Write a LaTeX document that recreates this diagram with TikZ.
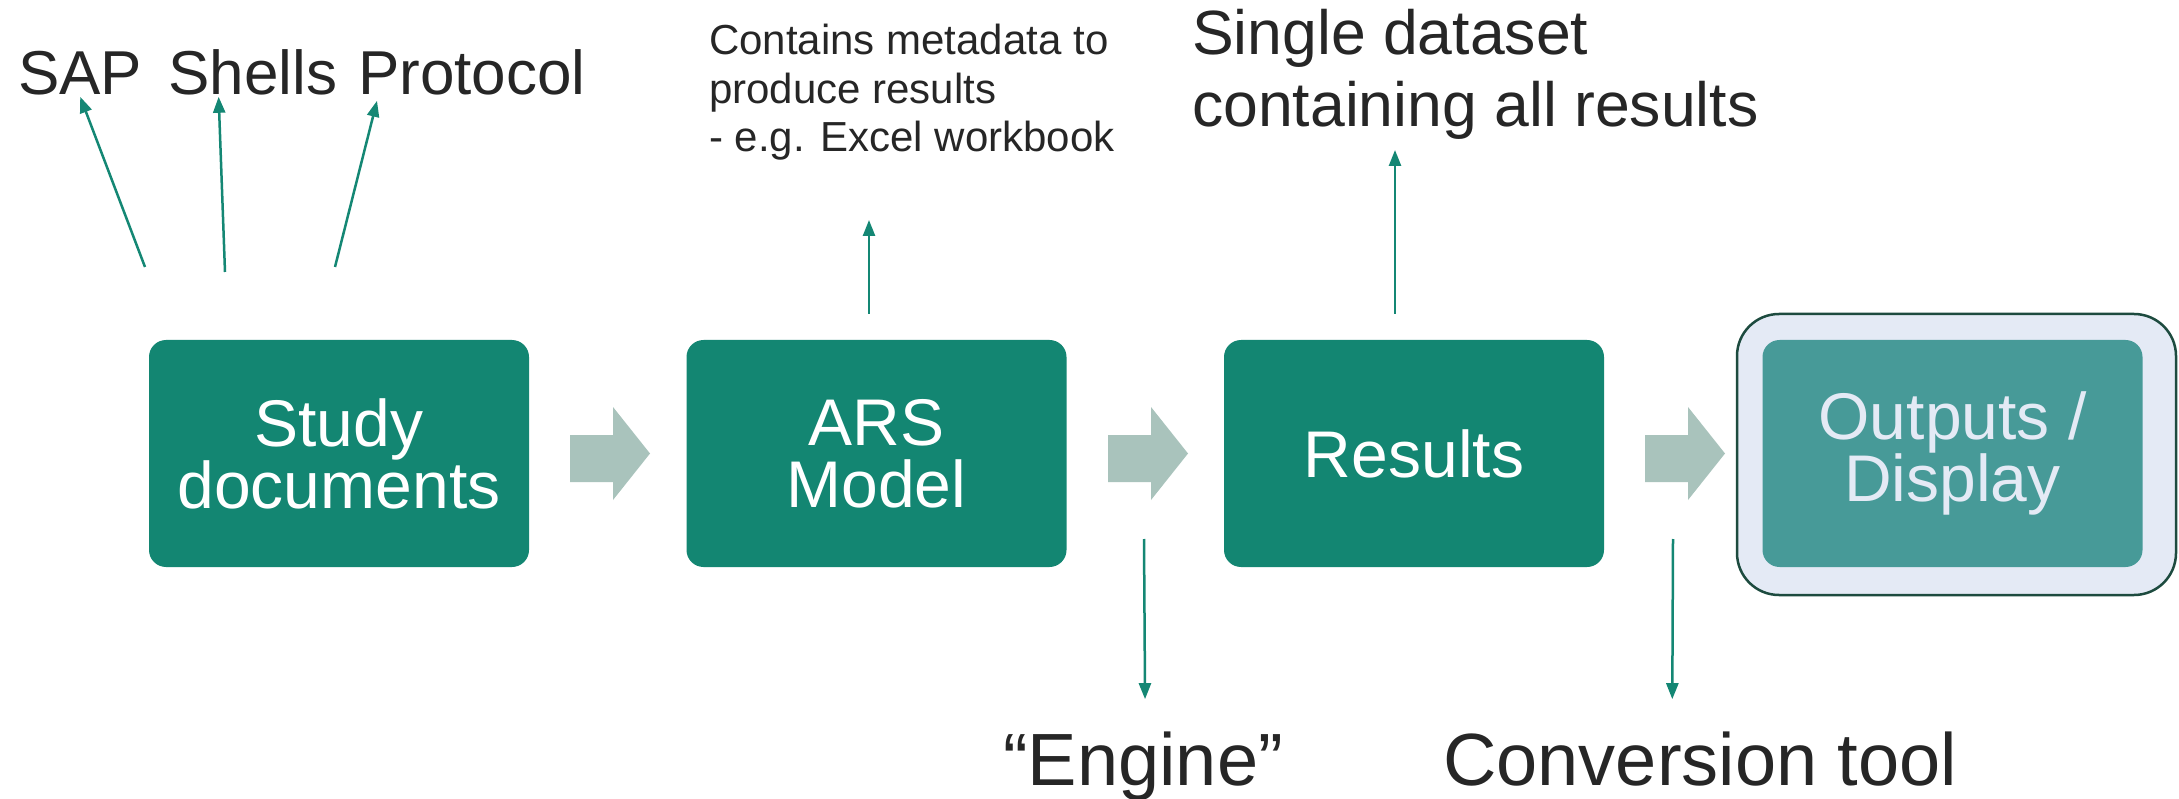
\documentclass[tikz,border=0pt]{standalone}
\usepackage{fontspec}
\setmainfont{Liberation Sans}
\usetikzlibrary{arrows.meta}
\definecolor{boxgreen}{HTML}{138672}
\definecolor{innerteal}{HTML}{479A98}
\definecolor{outerfill}{HTML}{E4EAF5}
\definecolor{outerline}{HTML}{1D4B3F}
\definecolor{blockgrey}{HTML}{A9C3BC}
\definecolor{linegreen}{HTML}{148774}
\definecolor{txtdark}{HTML}{262626}
\newcommand{\blkarrow}[1]{%
  \fill[blockgrey] (#1,435) -- (#1+43,435) -- (#1+43,407) -- (#1+80,453.5)
    -- (#1+43,500) -- (#1+43,482) -- (#1,482) -- cycle;}
\begin{document}
\begin{tikzpicture}[x=1pt,y=-1pt,
  box/.style={fill=boxgreen, rounded corners=17pt, minimum width=380pt,
    minimum height=227pt, text=white, font=\fontsize{66}{62}\selectfont,
    align=center, inner sep=0pt},
  outerbox/.style={fill=outerfill, draw=outerline, line width=2.5pt,
    rounded corners=42pt, minimum width=439pt, minimum height=281pt, inner sep=0pt},
  lbl/.style={text=txtdark, inner sep=0pt, anchor=base west},
  big/.style={font=\fontsize{62}{62}\selectfont},
  small/.style={font=\fontsize{42}{48}\selectfont},
  mid/.style={font=\fontsize{62.5}{62}\selectfont},
  huge/.style={font=\fontsize{74}{74}\selectfont},
  thin/.style={draw=linegreen, line width=2.5pt, -{Triangle[length=16pt,width=12pt]}}]
\useasboundingbox (0,0) rectangle (2179,799);
\fill[white] (0,0) rectangle (2179,799);

% boxes
\node[box] (study) at (339,453.5) {Study\\documents};
\node[box] (ars) at (876.5,453.5) {ARS\\Model};
\node[box] (results) at (1414,453.5) {Results};
\node[outerbox] (outframe) at (1956.5,454.5) {};
\node[box, fill=innerteal, text=outerfill] (outputs) at (1952.5,453.5) {Outputs /\\Display};

% block arrows
\blkarrow{570}
\blkarrow{1108}
\blkarrow{1645}

% labels
\node[lbl, big] (sap) at (18,95) {SAP};
\node[lbl, big] (shells) at (168,95) {Shells};
\node[lbl, big] (protocol) at (358,95) {Protocol};
\node[lbl, small] (meta1) at (709,55) {Contains metadata to};
\node[lbl, small] (meta2) at (709,104) {produce results};
\node[lbl, small] (meta3) at (709,152) {- e.g. Excel workbook};
\node[lbl, mid] (single1) at (1192,55) {Single dataset};
\node[lbl, mid] (single2) at (1192,127) {containing all results};
\node[lbl, huge] (engine) at (1003,785) {“Engine”};
\node[lbl, huge] (conv) at (1443,785) {Conversion tool};

% thin arrows
\coordinate (sapfrom) at (145,267);
\coordinate (shellsfrom) at (225,272);
\coordinate (protofrom) at (335,267);
\coordinate (metato) at (869,220);
\coordinate (singleto) at (1395,150);
\coordinate (enginefrom) at (1144,539);
\coordinate (convfrom) at (1673,539);
\draw[thin] (sapfrom) -- ([xshift=0pt,yshift=-1pt]sap.south);
\draw[thin] (shellsfrom) -- ([xshift=-34pt,yshift=-1pt]shells.south);
\draw[thin] (protofrom) -- ([xshift=19pt,yshift=-5pt]protocol.south west);
\draw[thin] ([xshift=-7.5pt,yshift=26pt]ars.north) -- (metato);
\draw[thin] ([xshift=-19pt,yshift=26pt]results.north) -- (singleto);
\draw[thin] (enginefrom) -- ([xshift=2pt,yshift=32pt]engine.north);
\draw[thin] (convfrom) -- ([xshift=-28pt,yshift=32pt]conv.north);
\end{tikzpicture}
\end{document}
